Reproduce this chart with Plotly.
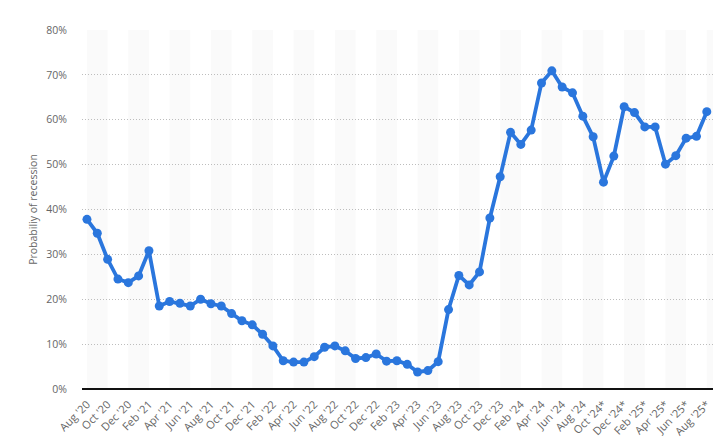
import plotly.graph_objects as go

months = ["Aug '20","Sep '20","Oct '20","Nov '20","Dec '20","Jan '21","Feb '21","Mar '21","Apr '21","May '21",
          "Jun '21","Jul '21","Aug '21","Sep '21","Oct '21","Nov '21","Dec '21","Jan '22","Feb '22","Mar '22",
          "Apr '22","May '22","Jun '22","Jul '22","Aug '22","Sep '22","Oct '22","Nov '22","Dec '22","Jan '23",
          "Feb '23","Mar '23","Apr '23","May '23","Jun '23","Jul '23","Aug '23","Sep '23","Oct '23","Nov '23",
          "Dec '23","Jan '24","Feb '24","Mar '24","Apr '24","May '24","Jun '24","Jul '24","Aug '24","Sep '24",
          "Oct '24*","Nov '24*","Dec '24*","Jan '25*","Feb '25*","Mar '25*","Apr '25*","May '25*","Jun '25*","Jul '25*",
          "Aug '25*"]

probability = [37.8, 34.7, 28.9, 24.5, 23.7, 25.2, 30.8, 18.5, 19.5, 19.1,
               18.5, 20.0, 19.0, 18.5, 16.8, 15.2, 14.3, 12.2, 9.6, 6.3,
               6.0, 6.0, 7.2, 9.3, 9.6, 8.5, 6.8, 7.0, 7.8, 6.2,
               6.3, 5.5, 3.8, 4.1, 6.1, 17.7, 25.3, 23.2, 26.1, 38.1,
               47.3, 57.2, 54.5, 57.7, 68.2, 70.9, 67.3, 66.0, 60.8, 56.2,
               46.1, 51.9, 62.9, 61.6, 58.4, 58.4, 50.1, 52.0, 55.9, 56.3,
               61.8]

y_ticks = [0, 10, 20, 30, 40, 50, 60, 70, 80]
y_tick_labels = [f"{v}%" for v in y_ticks]

x_idx = list(range(len(months)))
tick_idx = x_idx[::2]
tick_text = months[::2]

x_min, x_max = -0.48, 60.6

fig = go.Figure()

shapes = []
k = 0
while 4 * k < x_max:
    x0 = 4 * k
    x1 = min(4 * k + 2, x_max)
    shapes.append(dict(type="rect", xref="x", yref="y", x0=x0, x1=x1, y0=0, y1=80,
                       fillcolor="#fafafa", line=dict(width=0), layer="below"))
    k += 1

fig.add_trace(go.Scatter(
    x=x_idx, y=probability, mode="lines+markers",
    line=dict(color="#2a76dd", width=3.8),
    marker=dict(color="#2a76dd", size=9),
    hovertemplate="%{text}: %{y}%<extra></extra>", text=months,
    cliponaxis=False,
))

# page body has an 8px default margin, so the figure is sized 8px smaller
fig.update_layout(
    width=714, height=439,
    margin=dict(l=74, r=9, t=22, b=58),
    paper_bgcolor="white", plot_bgcolor="white",
    showlegend=False,
    shapes=shapes,
    font=dict(family="Open Sans, Noto Sans, sans-serif", color="#666666", size=11),
    xaxis=dict(
        range=[x_min, x_max], automargin=False,
        tickmode="array", tickvals=tick_idx, ticktext=tick_text,
        tickangle=-45, showgrid=False, zeroline=False,
        showline=False, ticks="", ticklabelstandoff=6,
        tickfont=dict(size=11, color="#666666"),
    ),
    yaxis=dict(
        range=[0, 80], automargin=False,
        tickmode="array", tickvals=y_ticks, ticktext=y_tick_labels,
        showgrid=True, gridcolor="#bdbdbd", griddash="1px,2px", gridwidth=1,
        zeroline=True, zerolinecolor="#111111", zerolinewidth=1.6,
        ticks="", ticklabelstandoff=14, tickfont=dict(size=10.5, color="#666666"),
        title=dict(text="Probabiliy of recession", font=dict(size=10.5, color="#666666"), standoff=6),
    ),
)

fig.write_html("out.html")
